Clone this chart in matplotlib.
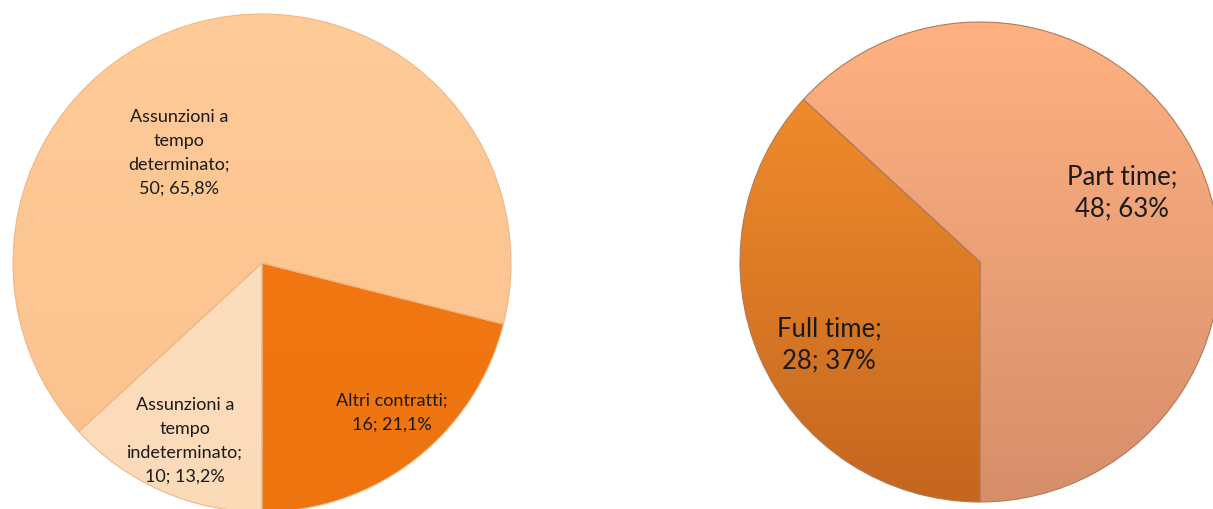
import numpy as np
import matplotlib.pyplot as plt
from matplotlib.colors import LinearSegmentedColormap

plt.rcParams['font.family'] = ['Lato', 'DejaVu Sans']

# -------- Data --------
contratti_labels = ["Assunzioni a\ntempo\nindeterminato", "Assunzioni a\ntempo\ndeterminato", "Altri contratti"]
contratti_values = [10, 50, 16]
contratti_pct = ["13,2%", "65,8%", "21,1%"]

orario_labels = ["Full time", "Part time"]
orario_values = [28, 48]
orario_pct = ["37%", "63%"]

# -------- Style --------
contratti_colors = [("#FDE2C4", "#FBDAB8"), ("#FFCB99", "#FAC18D"), ("#F57A14", "#EE7410")]
orario_colors = [("#F8922E", "#C4661F"), ("#FFB182", "#D68E6A")]

W, H = 1213, 510
fig = plt.figure(figsize=(W / 100, H / 100), dpi=100)
ax = fig.add_axes([0, 0, 1, 1])
ax.set_xlim(0, W)
ax.set_ylim(0, H)
ax.set_aspect('equal')
ax.axis('off')


def gradient_fill(wedge, top, bottom, cy, r):
    # vertical gradient clipped to the wedge shape
    cmap = LinearSegmentedColormap.from_list("g", [bottom, top])
    grad = np.linspace(0, 1, 256).reshape(-1, 1)
    im = ax.imshow(grad, cmap=cmap, origin='lower', aspect='auto',
                   extent=[0, W, cy - r, cy + r], zorder=2)
    im.set_clip_path(wedge)
    wedge.set_facecolor('none')


def draw_pie(values, colors, center, radius, edge, lw):
    wedges, _ = ax.pie(values, center=center, radius=radius, startangle=-90,
                       counterclock=False, frame=False,
                       wedgeprops=dict(edgecolor=edge, linewidth=lw))
    for w, (top, bottom) in zip(wedges, colors):
        gradient_fill(w, top, bottom, center[1], radius)
        w.set_zorder(3)
    return wedges


# -------- Left pie: tipologia di contratto --------
c1, r1 = (262, 246), 249
draw_pie(contratti_values, contratti_colors, c1, r1, "#EDB886", 0.8)

left_pos = [(185, 441), (179, 153), (392, 413)]
for (lx, ly), lab, v, p in zip(left_pos, contratti_labels, contratti_values, contratti_pct):
    txt = lab + ";\n" + str(v) + "; " + p
    ax.text(lx, H - ly, txt, ha='center', va='center', fontsize=13,
            color="#1A1A1A", linespacing=1.6, zorder=5)

# -------- Right pie: orario di lavoro --------
c2, r2 = (980, 247), 240
draw_pie(orario_values, orario_colors, c2, r2, "#B07A58", 0.8)

right_pos = [(829, 345), (1122, 193)]
for (lx, ly), lab, v, p in zip(right_pos, orario_labels, orario_values, orario_pct):
    txt = lab + ";\n" + str(v) + "; " + p
    ax.text(lx, H - ly, txt, ha='center', va='center', fontsize=18.5,
            color="#1A1A1A", linespacing=1.37, zorder=5)

ax.set_xlim(0, W)
ax.set_ylim(0, H)
fig.savefig("out.png", dpi=100)
